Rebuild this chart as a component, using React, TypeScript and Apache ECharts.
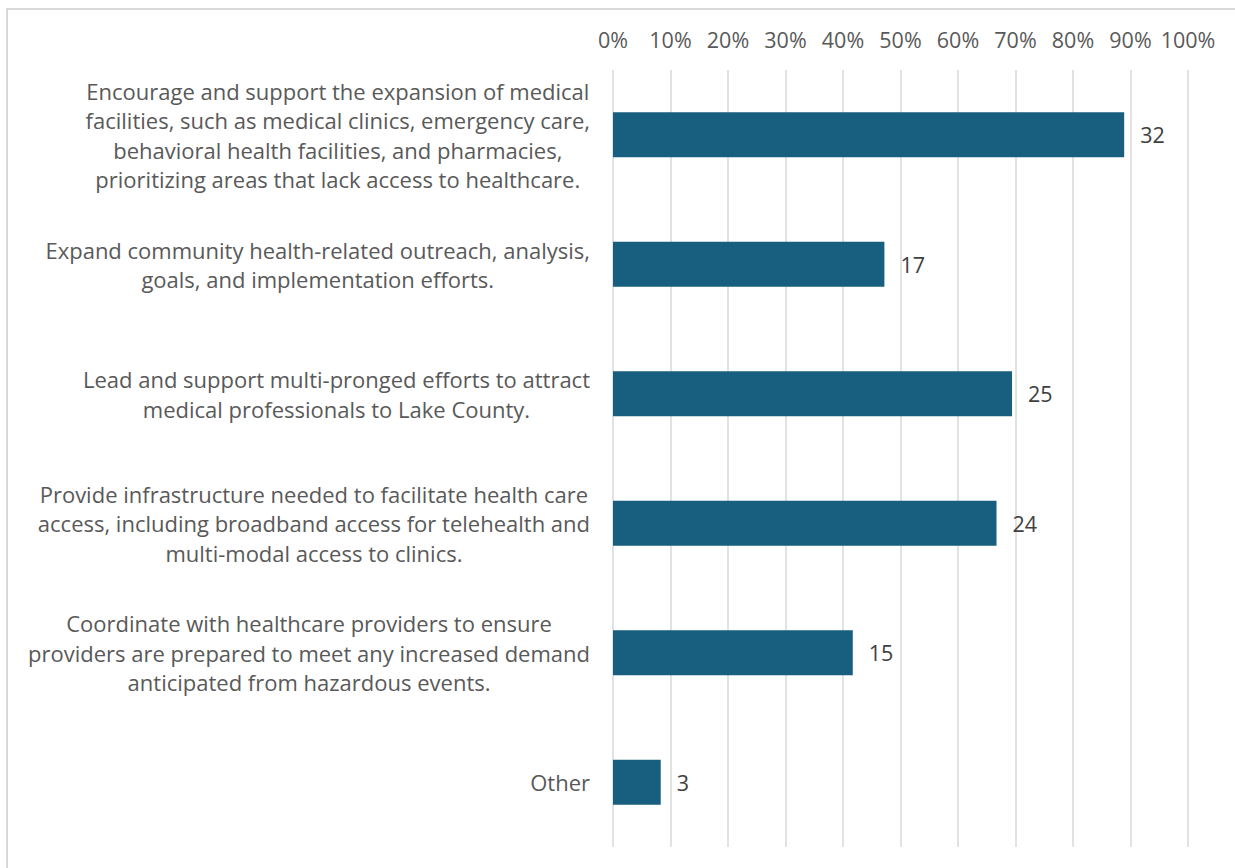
import React, { useEffect, useRef } from "react";
import * as echarts from "echarts";

const categories: string[] = [
  "Encourage and support the expansion of medical\nfacilities, such as medical clinics, emergency care,\nbehavioral health facilities, and pharmacies,\nprioritizing areas that lack access to healthcare.",
  "Expand community health-related outreach, analysis,\ngoals, and implementation efforts.",
  "Lead and support multi-pronged efforts to attract\nmedical professionals to Lake County.",
  "Provide infrastructure needed to facilitate health care\naccess, including broadband access for telehealth and\nmulti-modal access to clinics.",
  "Coordinate with healthcare providers to ensure\nproviders are prepared to meet any increased demand\nanticipated from hazardous events.",
  "Other",
];

// share of respondents (%)
const shares: number[] = [88.9, 47.2, 69.4, 66.7, 41.7, 8.3];
// counts shown as data labels
const counts: number[] = [32, 17, 25, 24, 15, 3];

const FONT = "Open Sans";
const FS = 22;

export default function App() {
  const ref = useRef<HTMLDivElement>(null);
  useEffect(() => {
    if (!ref.current) return;
    const chart = echarts.init(ref.current, null, { renderer: "svg" });
    chart.setOption({
      animation: false,
      textStyle: { fontFamily: FONT },
      grid: { left: 613, right: 47, top: 70, bottom: 21, containLabel: false },
      xAxis: {
        type: "value",
        position: "top",
        min: 0,
        max: 100,
        interval: 10,
        axisLine: { show: false },
        axisTick: { show: false },
        axisLabel: {
          formatter: "{value}%",
          color: "#595959",
          fontSize: 21.5,
          fontFamily: FONT,
          margin: 20,
        },
        splitLine: { show: true, lineStyle: { color: "#d9d9d9", width: 1.5 } },
      },
      yAxis: {
        type: "category",
        inverse: true,
        data: categories,
        axisLine: { show: false },
        axisTick: { show: false },
        axisLabel: {
          margin: 23,
          color: "#595959",
          fontSize: FS,
          fontFamily: FONT,
          lineHeight: 29.5,
          formatter: (v: string) =>
            v
              .split("\n")
              .map((l) => `{c|${l}}`)
              .join("\n"),
          rich: {
            c: {
              align: "center",
              color: "#595959",
              fontSize: FS,
              fontFamily: FONT,
              lineHeight: 29.5,
            },
          },
        },
      },
      series: [
        {
          type: "bar",
          data: shares,
          barWidth: 45,
          itemStyle: { color: "#175e7f" },
          label: {
            show: true,
            position: "right",
            distance: 16,
            color: "#404040",
            fontSize: 21.5,
            fontFamily: FONT,
            formatter: (p: any) => String(counts[p.dataIndex]),
          },
        },
      ],
    });
    return () => chart.dispose();
  }, []);
  return (
    <div style={{ position: "absolute", left: 0, top: 0, width: 1235, height: 868 }}>
      <div
        style={{
          position: "absolute",
          left: 6,
          top: 8,
          right: 0,
          bottom: 0,
          borderLeft: "2px solid #d9d9d9",
          borderTop: "2px solid #d9d9d9",
        }}
      />
      <div ref={ref} style={{ position: "absolute", left: 0, top: 0, width: 1235, height: 868 }} />
    </div>
  );
}
